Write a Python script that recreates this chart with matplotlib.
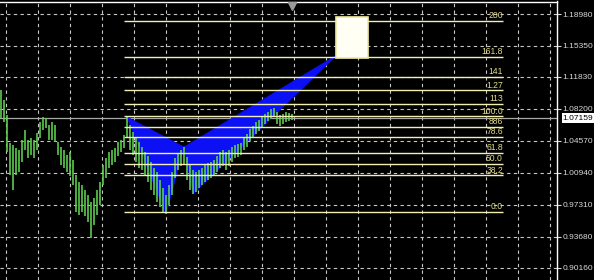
import numpy as np
import matplotlib
matplotlib.use("Agg")
import matplotlib.pyplot as plt
from matplotlib.patches import Polygon, Rectangle
import matplotlib.transforms as mtransforms

plt.rcParams["font.family"] = ["Liberation Sans", "DejaVu Sans"]

# ---------------- data ----------------
highs = [1.1035, 1.0922, 1.0752, 1.0434, 1.0411, 1.0377, 1.0354, 1.0468, 1.0581, 1.0468,
         1.0491, 1.0468, 1.0547, 1.0672, 1.0729, 1.0718, 1.0638, 1.0672, 1.0638, 1.0445,
         1.0388, 1.0354, 1.0298, 1.0332, 1.0241, 1.0071, 0.9991, 0.9957, 0.9900, 0.9844,
         0.9764, 0.9810, 0.9900, 0.9991, 1.0184, 1.0264, 1.0332, 1.0354, 1.0377, 1.0445,
         1.0468, 1.0525, 1.0729, 1.0638, 1.0559, 1.0491, 1.0445, 1.0388, 1.0332, 1.0286,
         1.0218, 1.0150, 1.0105, 1.0014, 0.9923, 0.9844, 0.9957, 1.0105, 1.0264, 1.0320,
         1.0354, 1.0388, 1.0275, 1.0184, 1.0127, 1.0105, 1.0127, 1.0150, 1.0184, 1.0207,
         1.0218, 1.0241, 1.0286, 1.0332, 1.0354, 1.0332, 1.0354, 1.0388, 1.0411, 1.0423,
         1.0434, 1.0491, 1.0536, 1.0593, 1.0627, 1.0672, 1.0695, 1.0729, 1.0763, 1.0786,
         1.0820, 1.0831, 1.0786, 1.0752, 1.0763, 1.0786, 1.0774, 1.0763]
lows = [1.0718, 1.0672, 1.0332, 1.0071, 0.9900, 1.0071, 1.0105, 1.0218, 1.0354, 1.0264,
        1.0298, 1.0264, 1.0354, 1.0491, 1.0581, 1.0604, 1.0468, 1.0468, 1.0445, 1.0298,
        1.0184, 1.0150, 1.0105, 1.0059, 0.9957, 0.9651, 0.9617, 0.9651, 0.9605, 0.9537,
        0.9356, 0.9503, 0.9617, 0.9730, 0.9957, 1.0037, 1.0150, 1.0184, 1.0218, 1.0286,
        1.0332, 1.0377, 1.0491, 1.0354, 1.0298, 1.0218, 1.0150, 1.0127, 1.0059, 0.9991,
        0.9900, 0.9844, 0.9764, 0.9707, 0.9651, 0.9628, 0.9730, 0.9844, 1.0037, 1.0127,
        1.0173, 1.0184, 1.0014, 0.9900, 0.9855, 0.9878, 0.9923, 0.9957, 0.9991, 1.0014,
        1.0037, 1.0071, 1.0105, 1.0150, 1.0173, 1.0127, 1.0173, 1.0218, 1.0264, 1.0275,
        1.0298, 1.0354, 1.0388, 1.0457, 1.0491, 1.0536, 1.0570, 1.0604, 1.0650, 1.0684,
        1.0706, 1.0729, 1.0650, 1.0627, 1.0650, 1.0672, 1.0684, 1.0695]

# harmonic pattern points (bar index, price)
pat_x = [42, 55, 61, 64, 112]
pat_y = [1.0729, 0.9628, 1.0388, 0.9855, 1.1433]

# fibonacci levels
fib_levels = [0.0, 38.2, 50.0, 61.8, 78.6, 88.6, 100.0, 113.0, 127.0, 141.0, 161.8, 200.0]
fib_labels = ["0.0", "38.2", "50.0", "61.8", "78.6", "886", "100.0", "113", "1.27", "141", "161.8", "200"]
fib_price_0 = 0.9651
fib_price_100 = 1.0737

# target zone box (bar range, price range)
box_x = [111.7, 122.3]
box_y = [1.1399, 1.1864]

# price axis
ytick_vals = [1.18980, 1.15350, 1.11830, 1.08200, 1.04570, 1.00940, 0.97310, 0.93680, 0.90160]
current_price = 1.07159

# ---------------- figure ----------------
W, H, DPI = 594, 280, 100
fig = plt.figure(figsize=(W / DPI, H / DPI), dpi=DPI, facecolor="black")
ax = fig.add_axes([0, 0, 557 / W, (H - 1.5) / H], facecolor="black")

ax.set_xlim(-1 / 3, 556 / 3)
ax.set_ylim(0.88787, 1.20399)

# grid
grid_kw = dict(color="#c8c8c8", lw=0.8, dashes=(3, 3), zorder=1)
for v in ytick_vals:
    ax.axhline(v, **grid_kw)
for gx in np.arange(5 / 3, 556 / 3, 32 / 3):
    ax.axvline(gx, **grid_kw)

# current price line
ax.axhline(current_price, color="#a8a8a8", lw=0.9, zorder=2)

# harmonic triangles
blue = "#0c10f4"
tri1 = Polygon(list(zip(pat_x[0:3], pat_y[0:3])), closed=True, fc=blue, ec=blue, lw=0.5, zorder=3)
tri2 = Polygon(list(zip(pat_x[2:5], pat_y[2:5])), closed=True, fc=blue, ec=blue, lw=0.5, zorder=3)
ax.add_patch(tri1)
ax.add_patch(tri2)

# bars
idx = np.arange(len(highs))
ax.vlines(idx, lows, highs, color="#5ccf4e", lw=1.3, alpha=0.9, zorder=4)

# fib lines
fib_start, fib_end = 41, 167.3
fib_prices = [fib_price_0 + (fib_price_100 - fib_price_0) * l / 100.0 for l in fib_levels]
ax.hlines(fib_prices, fib_start, fib_end, color="#f2efb4", lw=1.0, zorder=5)
for p, lab in zip(fib_prices, fib_labels):
    ax.text(fib_end, p + 0.0008, lab, color="#e2dc8a", fontsize=6.2, ha="right", va="bottom", zorder=6)

# target box
ax.add_patch(Rectangle((box_x[0], box_y[0]), box_x[1] - box_x[0], box_y[1] - box_y[0],
                       fc="#fffff4", ec="#f0e8a0", lw=1.2, zorder=6))

# chart-shift marker
trans = mtransforms.blended_transform_factory(ax.transData, ax.transAxes)
ax.plot([len(highs) - 1], [0.985], marker="v", ms=6, color="#9a9a9a", transform=trans, clip_on=False, zorder=7)

# axes styling
for s in ["left", "bottom"]:
    ax.spines[s].set_visible(False)
ax.spines["right"].set_color("white")
ax.spines["top"].set_color("white")
ax.spines["right"].set_linewidth(1.0)
ax.spines["top"].set_linewidth(1.0)
ax.set_xticks([])
ax.yaxis.tick_right()
ax.set_yticks(ytick_vals)
ax.set_yticklabels([f"{v:.5f}" for v in ytick_vals])
ax.tick_params(axis="y", colors="#d8d8d8", labelsize=6.0, length=3, width=0.8, pad=1.2, direction="out")

# current price label
ax.annotate(f"{current_price:.5f}", xy=(1, current_price), xycoords=("axes fraction", "data"),
            xytext=(4.2, 0), textcoords="offset points", ha="left", va="center",
            fontsize=6.0, color="black",
            bbox=dict(boxstyle="square,pad=0.15", fc="white", ec="none"), annotation_clip=False)

fig.savefig("out.png", dpi=DPI, facecolor="black")
